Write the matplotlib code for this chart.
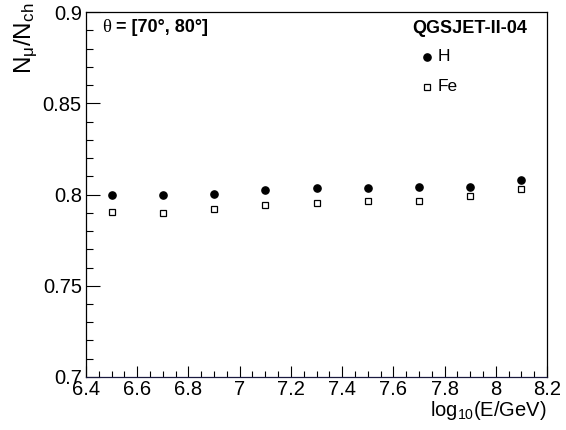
import numpy as np
import matplotlib
matplotlib.use('Agg')
import matplotlib.pyplot as plt
from matplotlib.ticker import MultipleLocator, FormatStrFormatter

plt.rcParams['font.family'] = ['Liberation Sans', 'DejaVu Sans']
plt.rcParams['mathtext.fontset'] = 'custom'
plt.rcParams['mathtext.rm'] = 'Liberation Sans'
plt.rcParams['mathtext.it'] = 'Liberation Sans:italic'
plt.rcParams['mathtext.bf'] = 'Liberation Sans:bold'

# data
log_e = [6.5, 6.7, 6.9, 7.1, 7.3, 7.5, 7.7, 7.9, 8.1]
ratio_h = [0.7995, 0.7997, 0.8004, 0.8022, 0.8035, 0.8035, 0.8042, 0.8042, 0.8082]
ratio_fe = [0.7905, 0.7899, 0.7918, 0.7941, 0.7954, 0.7962, 0.7965, 0.7992, 0.8031]

fig = plt.figure(figsize=(5.66, 4.30), dpi=100)
ax = fig.add_axes([86 / 566, 1 - 377 / 430, 461 / 566, 365 / 430])

ax.plot(log_e, ratio_h, 'o', color='black', markersize=5.2, linestyle='none')
ax.plot(log_e, ratio_fe, 's', markerfacecolor='white', markeredgecolor='black',
        markeredgewidth=0.9, markersize=5.0, linestyle='none')

ax.set_xlim(6.4, 8.2)
ax.set_ylim(0.7, 0.9)
ax.xaxis.set_major_locator(MultipleLocator(0.2))
ax.xaxis.set_minor_locator(MultipleLocator(0.05))
ax.yaxis.set_major_locator(MultipleLocator(0.05))
ax.yaxis.set_minor_locator(MultipleLocator(0.01))
ax.xaxis.set_major_formatter(FormatStrFormatter('%g'))
ax.yaxis.set_major_formatter(FormatStrFormatter('%g'))

ax.tick_params(which='both', direction='in', top=False, right=False, labelsize=14.5)
ax.tick_params(axis='x', which='major', length=8, width=0.8, pad=2)
ax.tick_params(axis='x', which='minor', length=4, width=0.8)
ax.tick_params(axis='y', which='major', length=10, width=0.8, pad=3)
ax.tick_params(axis='y', which='minor', length=5, width=0.8)
for s in ax.spines.values():
    s.set_linewidth(0.9)
ax.spines['bottom'].set_color('#1a1a40')

ax.set_ylabel(r'$\mathregular{N_{\mu}/N_{ch}}$', fontsize=17.5, loc='top')
ax.yaxis.set_label_coords(-0.099, 1.025)
ax.set_xlabel(r'$\mathregular{log_{10}(E/GeV)}$', fontsize=14.5, loc='right', labelpad=0.5)

th = ax.text(0.035, 0.945, 'θ', transform=ax.transAxes, fontsize=13.5,
             family=['Liberation Serif'], ha='left', va='baseline')
ax.annotate(' = [70°, 80°]', xy=(1, 0), xycoords=th, fontsize=13,
            fontweight='bold', ha='left', va='bottom')

ax.text(0.956, 0.943, 'QGSJET-II-04', transform=ax.transAxes, fontsize=13,
        fontweight='bold', ha='right', va='baseline')
ax.plot([0.74], [0.877], 'o', transform=ax.transAxes, color='black', markersize=5.2,
        clip_on=False)
ax.text(0.762, 0.877, 'H', transform=ax.transAxes, fontsize=12.5, ha='left', va='center')
ax.plot([0.74], [0.795], 's', transform=ax.transAxes, markerfacecolor='white',
        markeredgecolor='black', markeredgewidth=0.9, markersize=5.0, clip_on=False)
ax.text(0.762, 0.795, 'Fe', transform=ax.transAxes, fontsize=12.5, ha='left', va='center')

fig.savefig('out.png', dpi=100)
